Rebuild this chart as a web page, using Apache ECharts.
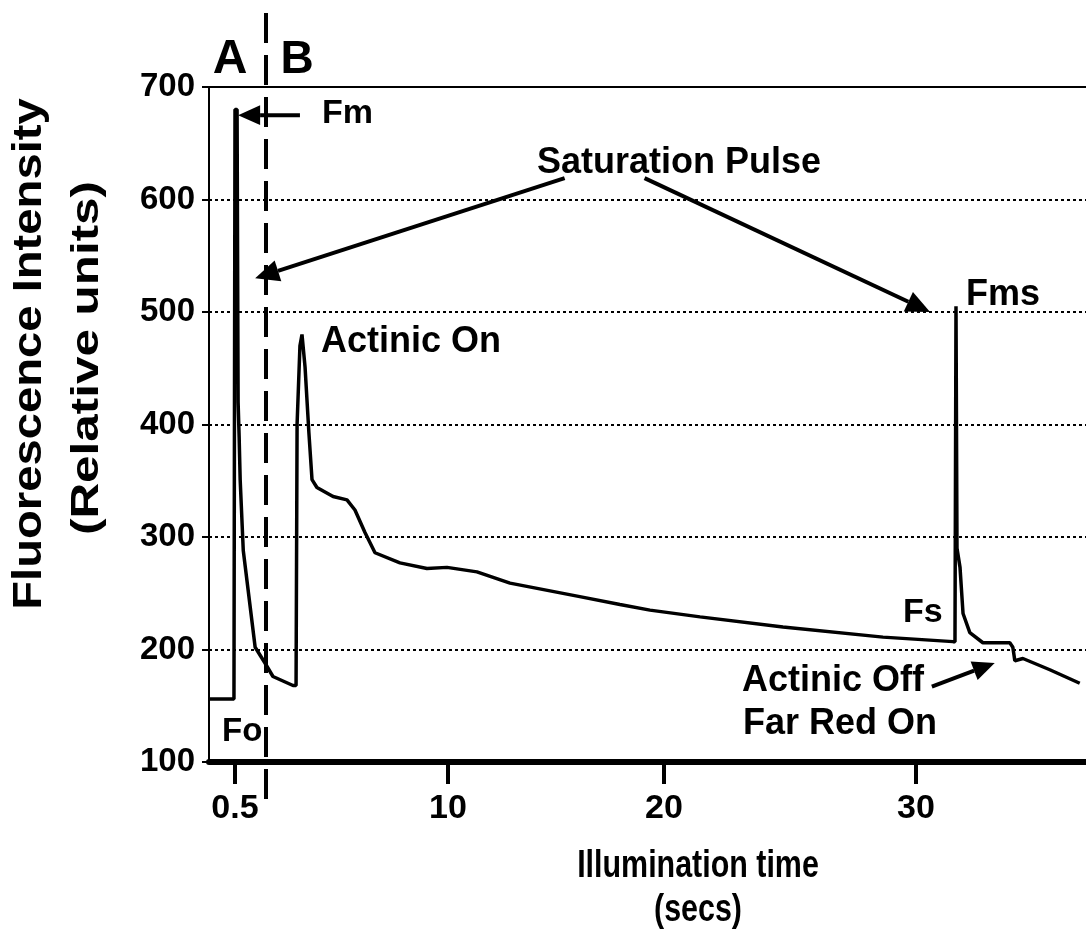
<!DOCTYPE html>
<html lang="en">
<head>
<meta charset="UTF-8">
<title>Fluorescence Intensity vs Illumination time</title>
<script src="https://cdn.jsdelivr.net/npm/echarts@6/dist/echarts.min.js"></script>
<style>
  html, body { margin: 0; padding: 0; background: #fff; }
  #chartmain { width: 1086px; height: 942px; }
</style>
</head>
<body>
<div id="chartmain"></div>
<script>
// fluorescence trace: time (secs) / intensity (relative units)
var timeSec = [0, 0.48, 0.50, 0.54, 0.56, 0.58, 0.60, 0.66, 0.89, 1.08, 1.44, 2.42, 2.57,
    2.62, 2.76, 2.86, 3.01, 3.20, 3.35, 3.59, 4.38, 5.06, 5.45, 5.94, 6.43, 7.65, 8.97,
    9.95, 11.34, 12.87, 16.1, 17.96, 19.35, 21.43, 24.72, 28.69, 31.47, 31.55, 31.59,
    31.63, 31.75, 31.87, 32.14, 32.66, 33.73, 33.85, 33.93, 34.25, 35.32, 36.51];
var fluor = [156, 156, 680, 680, 420, 389, 351, 288, 202, 188, 176, 168, 168,
    400, 470, 480, 451, 392, 351, 344, 336, 333, 324, 304, 286, 277, 272,
    273, 269, 259, 247, 240, 235, 229, 220, 211, 207, 207, 505,
    290, 273, 232, 215, 206, 206, 202, 190, 192, 182, 170];

var tickSec = [0.5, 10, 20, 30];
var tickText = ['0.5', '10', '20', '30'];
var yMin = 100, yMax = 700, yStep = 100;

// the printed time axis is not linear (part A is stretched), so map secs onto it
var axisSec = [0, 0.5, 1.1, 10, 20, 30, 36.6];
var axisPos = [0, 26, 57, 239, 455, 707, 873];
var axisEnd = 877;
var splitSec = 1.1; // dashed line between A and B

function warp(t) {
    for (var i = 1; i < axisSec.length; i++) {
        if (t <= axisSec[i] || i === axisSec.length - 1) {
            var f = (t - axisSec[i - 1]) / (axisSec[i] - axisSec[i - 1]);
            return axisPos[i - 1] + f * (axisPos[i] - axisPos[i - 1]);
        }
    }
}

var FONT = '"Liberation Sans", Arial, sans-serif';
var tickPos = tickSec.map(warp);

var myChart = echarts.init(document.getElementById('chartmain'));
var option = {
    animation: false,
    backgroundColor: '#fff',
    grid: { left: 209, right: 0, top: 87, bottom: 180 },
    xAxis: [{
        type: 'value', min: 0, max: axisEnd,
        axisLine: { show: true, lineStyle: { color: '#000', width: 6 } },
        axisTick: { show: true, customValues: tickPos, length: 22, lineStyle: { color: '#000', width: 4 } },
        axisLabel: {
            customValues: tickPos, margin: 30,
            color: '#000', fontSize: 34, fontWeight: 'bold', fontFamily: FONT,
            formatter: function (v) {
                var best = 0;
                for (var i = 1; i < tickPos.length; i++) {
                    if (Math.abs(tickPos[i] - v) < Math.abs(tickPos[best] - v)) best = i;
                }
                return tickText[best];
            }
        },
        splitLine: { show: false }
    }, {
        type: 'value', min: 0, max: axisEnd, position: 'top',
        axisLine: { show: true, onZero: false, lineStyle: { color: '#000', width: 2 } },
        axisTick: { show: false }, axisLabel: { show: false }, splitLine: { show: false }
    }],
    yAxis: {
        type: 'value', min: yMin, max: yMax, interval: yStep,
        axisLine: { show: true, lineStyle: { color: '#000', width: 2 } },
        axisTick: { show: true, length: 7, lineStyle: { color: '#000', width: 2 } },
        axisLabel: { margin: 14, color: '#000', fontSize: 33, fontWeight: 'bold', fontFamily: FONT },
        splitLine: { show: true, lineStyle: { type: [3, 3], color: '#000', width: 2 } }
    },
    series: [{
        type: 'line',
        showSymbol: false,
        data: timeSec.map(function (t, i) { return [warp(t), fluor[i]]; }),
        lineStyle: { color: '#000', width: 3.5 }
    }]
};
myChart.setOption(option);

// annotations
function px(t, v) {
    return myChart.convertToPixel({ xAxisIndex: 0, yAxisIndex: 0 }, [warp(t), v]);
}
function arrow(from, to, head) {
    var dx = to[0] - from[0], dy = to[1] - from[1];
    var L = Math.sqrt(dx * dx + dy * dy), ux = dx / L, uy = dy / L;
    var bx = to[0] - ux * head, by = to[1] - uy * head, w = head * 0.45;
    return [
        { type: 'line', shape: { x1: from[0], y1: from[1], x2: bx, y2: by }, style: { stroke: '#000', lineWidth: 4 } },
        { type: 'polygon', shape: { points: [to, [bx - uy * w, by + ux * w], [bx + uy * w, by - ux * w]] }, style: { fill: '#000' } }
    ];
}
// sx stretches the text along its own direction (the scan is not evenly scaled)
function label(txt, x, y, size, align, rot, sx) {
    return {
        type: 'text', x: x, y: y, rotation: rot || 0, scaleX: sx || 1,
        style: { text: txt, font: 'bold ' + size + 'px ' + FONT, fill: '#000', align: align || 'left', verticalAlign: 'middle' }
    };
}

var xs = px(splitSec, yMin)[0];
var g = [
    { type: 'line', shape: { x1: xs, y1: 13, x2: xs, y2: 806 }, style: { stroke: '#000', lineWidth: 4, lineDash: [30, 12] } }
];
g = g.concat(arrow(px(2.76, 675), px(0.56, 675), 22));
g = g.concat(arrow(px(15.4, 619), px(0.89, 530), 24));
g = g.concat(arrow(px(19.1, 619), px(30.56, 500), 24));
g = g.concat(arrow(px(30.63, 167), px(33.13, 188), 22));
g.push(
    label('A', 230, 60, 48, 'center'),
    label('B', 297, 60, 46, 'center'),
    label('Fm', 322, 114, 34),
    label('Saturation Pulse', 537, 163, 36),
    label('Actinic On', 321, 342, 36),
    label('Fms', 966, 295, 36),
    label('Fs', 903, 613, 34),
    label('Actinic Off', 742, 681, 36),
    label('Far Red On', 743, 724, 36),
    label('Fo', 222, 732, 33),
    label('Illumination time', 698, 866, 39, 'center', 0, 0.78),
    label('(secs)', 698, 910, 39, 'center', 0, 0.78),
    label('Fluorescence Intensity', 30, 354, 40, 'center', Math.PI / 2, 1.18),
    label('(Relative units)', 88, 358, 38, 'center', Math.PI / 2, 1.3)
);
myChart.setOption({ graphic: { elements: g } });
</script>
</body>
</html>
